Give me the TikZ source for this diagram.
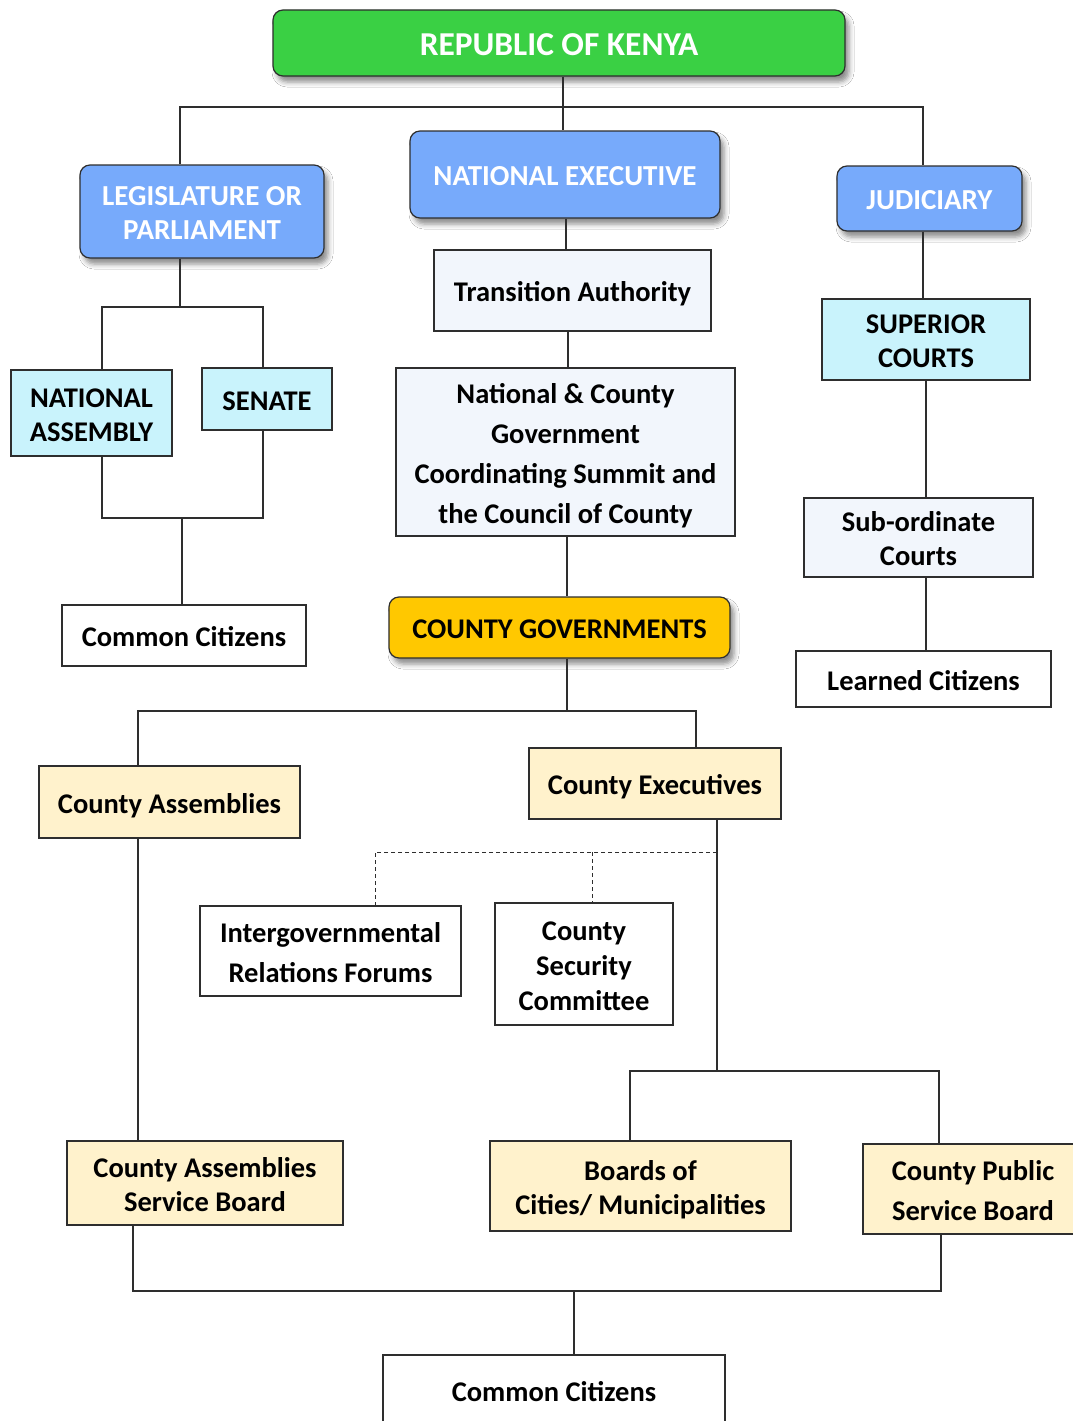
\documentclass[tikz,border=0pt]{standalone}
\usepackage{fontspec}
\setmainfont{Carlito}
\usetikzlibrary{shadows.blur}
\definecolor{kgreen}{HTML}{3AD044}
\definecolor{kblue}{HTML}{77AAFB}
\definecolor{kcyan}{HTML}{C9F3FC}
\definecolor{kpale}{HTML}{F2F6FC}
\definecolor{kgold}{HTML}{FFC800}
\definecolor{kcream}{HTML}{FFF2CC}
\definecolor{kline}{HTML}{2E2E2E}
% struts that fix the height of the first line and the depth of the last
\newcommand\tpS{\rule{0pt}{30pt}}
\newcommand\tpE{\rule[-8pt]{0pt}{8pt}}
\newcommand\tpSbig{\rule{0pt}{33pt}}
\begin{document}
\begin{tikzpicture}[x=1pt,y=-1pt,
  base/.style={inner sep=0pt, align=center, draw=kline, line width=1.2pt,
    font=\bfseries\fontsize{28.5}{34}\selectfont},
  rbox/.style={base, rounded corners=10pt,
    font=\bfseries\fontsize{29}{34}\selectfont,
    blur shadow={shadow xshift=4pt, shadow yshift=-6pt, shadow opacity=45, shadow blur radius=5pt}},
  sbox/.style={base},
  conn/.style={draw=kline, line width=1.3pt},
  dconn/.style={draw=kline, line width=1pt, dash pattern=on 4pt off 3pt},
  ls/.style={font=\bfseries\fontsize{28.5}{#1}\selectfont}
]
\useasboundingbox (0,0) rectangle (1073,1421);
\fill[white] (0,0) rectangle (1073,1421);

% top level
\node[rbox, fill=kgreen, text=white, font=\bfseries\fontsize{33.4}{38}\selectfont,
  minimum width=572pt, minimum height=66pt] (rep) at (559,43) {\tpSbig REPUBLIC OF KENYA\tpE};

% three arms
\node[rbox, fill=kblue, text=white, minimum width=244pt, minimum height=93pt]
  (leg) at (202,211.5) {\tpS LEGISLATURE OR\\PARLIAMENT\tpE};
\node[rbox, fill=kblue, text=white, minimum width=310pt, minimum height=87pt]
  (nexe) at (565,174.5) {\tpS NATIONAL EXECUTIVE\tpE};
\node[rbox, fill=kblue, text=white, minimum width=185pt, minimum height=65pt]
  (jud) at (929.5,198.5) {\tpS JUDICIARY\tpE};

% legislature branch
\node[sbox, fill=kcyan, minimum width=161pt, minimum height=86pt]
  (na) at (91.5,413) {\tpS NATIONAL\\ASSEMBLY\tpE};
\node[sbox, fill=kcyan, minimum width=130pt, minimum height=62pt]
  (sen) at (267,399) {\tpS SENATE\tpE};
\node[sbox, fill=white, minimum width=244pt, minimum height=61pt]
  (cc1) at (184,635.5) {\tpS Common Citizens\tpE};

% executive branch
\node[sbox, fill=kpale, minimum width=277pt, minimum height=81pt]
  (ta) at (572.5,290.5) {\tpS Transition Authority\tpE};
\node[sbox, fill=kpale, ls=40, minimum width=339pt, minimum height=168pt]
  (coord) at (565.5,452) {\tpS National \& County\\Government\\Coordinating Summit and\\the Council of County\tpE};
\node[rbox, fill=kgold, font=\bfseries\fontsize{28.5}{34}\selectfont, minimum width=341pt, minimum height=61pt]
  (cg) at (559.5,627.5) {\tpS COUNTY GOVERNMENTS\tpE};

% judiciary branch
\node[sbox, fill=kcyan, minimum width=208pt, minimum height=81pt]
  (sup) at (926,339.5) {\tpS SUPERIOR\\COURTS\tpE};
\node[sbox, fill=kpale, minimum width=229pt, minimum height=79pt]
  (sub) at (918.5,537.5) {\tpS Sub-ordinate\\Courts\tpE};
\node[sbox, fill=white, minimum width=255pt, minimum height=56pt]
  (lc) at (923.5,679) {\tpS Learned Citizens\tpE};

% county level
\node[sbox, fill=kcream, minimum width=261pt, minimum height=72pt]
  (ca) at (169.5,802) {\tpS County Assemblies\tpE};
\node[sbox, fill=kcream, minimum width=252pt, minimum height=71pt]
  (ce) at (655,783.5) {\tpS County Executives\tpE};
\node[sbox, fill=white, ls=40, minimum width=261pt, minimum height=90pt]
  (igr) at (330.5,951) {\tpS Intergovernmental\\Relations Forums\tpE};
\node[sbox, fill=white, ls=35, minimum width=178pt, minimum height=122pt]
  (csc) at (584,964) {\tpS County\\Security\\Committee\tpE};
\node[sbox, fill=kcream, minimum width=276pt, minimum height=84pt]
  (casb) at (205,1183) {\tpS County Assemblies\\Service Board\tpE};
\node[sbox, fill=kcream, minimum width=301pt, minimum height=90pt]
  (bcm) at (640.5,1186) {\tpS Boards of\\Cities/ Municipalities\tpE};
\node[sbox, fill=kcream, ls=40, minimum width=220pt, minimum height=90pt]
  (cpsb) at (973,1189) {\tpS County Public\\Service Board\tpE};
\node[sbox, fill=white, minimum width=342pt, minimum height=70pt]
  (cc2) at (554,1390) {\tpS Common Citizens\tpE};

% junction points
\coordinate (jtop) at (563,107);
\coordinate (jtl) at (180,107);
\coordinate (jtr) at (923,107);
\coordinate (jleg) at (180,307);
\coordinate (jna) at (102,307);
\coordinate (jsen) at (263,307);
\coordinate (jnab) at (102,518);
\coordinate (jsenb) at (263,518);
\coordinate (jcc) at (182,518);
\coordinate (jcg) at (567,711);
\coordinate (jca) at (138,711);
\coordinate (jce) at (696,711);
\coordinate (jceb) at (717,1071);
\coordinate (jbcm) at (630,1071);
\coordinate (jcps) at (939,1071);
\coordinate (jdash) at (717,852);
\coordinate (jigr) at (375,852);
\coordinate (jcsc) at (592,852);
\coordinate (jbl) at (133,1291);
\coordinate (jbr) at (941,1291);
\coordinate (jbm) at (574,1291);

% connectors: top
\draw[conn] (rep.south -| jtop) -- (nexe.north -| jtop);
\draw[conn] (leg.north -| jtl) -- (jtl) -- (jtr) -- (jud.north -| jtr);

% legislature
\draw[conn] (leg.south -| jleg) -- (jleg);
\draw[conn] (na.north -| jna) -- (jna) -- (jsen) -- (sen.north -| jsen);
\draw[conn] (na.south -| jnab) -- (jnab) -- (jsenb) -- (sen.south -| jsenb);
\draw[conn] (jcc) -- (cc1.north -| jcc);

% executive
\draw[conn] (nexe.south -| 566,0) -- (ta.north -| 566,0);
\draw[conn] (ta.south -| 568,0) -- (coord.north -| 568,0);
\draw[conn] (coord.south -| 567,0) -- (cg.north -| 567,0);

% judiciary
\draw[conn] (jud.south -| 923,0) -- (sup.north -| 923,0);
\draw[conn] (sup.south -| 926,0) -- (sub.north -| 926,0);
\draw[conn] (sub.south -| 926,0) -- (lc.north -| 926,0);

% county level
\draw[conn] (cg.south -| jcg) -- (jcg);
\draw[conn] (ca.north -| jca) -- (jca) -- (jce) -- (ce.north -| jce);
\draw[conn] (ca.south -| jca) -- (casb.north -| jca);
\draw[conn] (ce.south -| jceb) -- (jceb);
\draw[conn] (bcm.north -| jbcm) -- (jbcm) -- (jcps) -- (cpsb.north -| jcps);
\draw[dconn] (jdash) -- (jigr) -- (igr.north -| jigr);
\draw[dconn] (jcsc) -- (csc.north -| jcsc);

% bottom
\draw[conn] (casb.south -| jbl) -- (jbl) -- (jbr) -- (cpsb.south -| jbr);
\draw[conn] (jbm) -- (cc2.north -| jbm);
\end{tikzpicture}
\end{document}
